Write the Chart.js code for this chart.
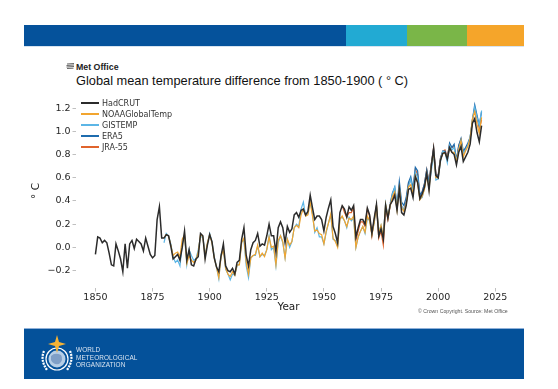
<!DOCTYPE html>
<html>
<head>
<meta charset="utf-8">
<script src="https://cdn.jsdelivr.net/npm/chart.js@4"></script>
<style>
  body { margin: 0; background: #fff; }
  #wrap { position: relative; width: 558px; height: 389px; overflow: hidden; }
  #chart { position: absolute; left: 0; top: 0; }
  .abs { position: absolute; }
  #topband { left: 24px; top: 25px; width: 500px; height: 21px; display: flex; border-bottom: 1px solid #d7e3ef; }
  #topband div { height: 100%; }
  #metoffice { left: 76px; top: 62px; font: bold 8.8px "Liberation Sans", Arial, sans-serif; color: #222; white-space: nowrap; }
  #title { left: 76px; top: 73px; font: 12.8px "Liberation Sans", Arial, sans-serif; color: #111; white-space: nowrap; }
  #copy { left: 418px; top: 308px; font: 5.2px "Liberation Sans", Arial, sans-serif; color: #555; white-space: nowrap; }
  #bottomband { left: 24px; top: 328px; width: 500px; height: 50px; background: #04519a; border-top: 1px solid #8fb0d8; }
  #wmotext { left: 52px; top: 17px; font: 6.4px "Liberation Sans", Arial, sans-serif; color: #dbe5f1; line-height: 7.6px; letter-spacing: 0.1px; }
</style>
</head>
<body>
<div id="wrap">
  <div id="topband" class="abs">
    <div style="width:322px;background:#05529b"></div>
    <div style="width:61px;background:#22aad3"></div>
    <div style="width:60px;background:#7ab648"></div>
    <div style="width:57px;background:#f5a52a"></div>
  </div>
  <svg class="abs" style="left:66px;top:63px" width="9" height="7" viewBox="0 0 9 7">
    <path d="M1 1 L8 0.5 M0.5 2.5 L8 2 M0.5 4 L8 3.5 M1 5.5 L7.5 5.2" stroke="#555" stroke-width="0.9" fill="none"/>
  </svg>
  <div id="metoffice" class="abs">Met Office</div>
  <div id="title" class="abs">Global mean temperature difference from 1850-1900 ( ° C)</div>
  <canvas id="chart" width="558" height="389"></canvas>
  <div id="copy" class="abs">© Crown Copyright. Source: Met Office</div>
  <div id="bottomband" class="abs">
    <svg class="abs" style="left:15px;top:4px" width="36" height="44" viewBox="0 0 36 44">
      <circle cx="18" cy="26" r="11" fill="none" stroke="#fff" stroke-width="1.2"/>
      <circle cx="18" cy="26" r="8.5" fill="#d6e4f3" opacity="0.85"/>
      <path d="M12 23 Q16 19 22 22 Q25 27 20 31 Q14 32 12 27 Z" fill="#7f9fc7"/>
      <path d="M5 18 Q1 27 8 37" fill="none" stroke="#fff" stroke-width="2.2" stroke-dasharray="2 1"/>
      <path d="M31 18 Q35 27 28 37" fill="none" stroke="#fff" stroke-width="2.2" stroke-dasharray="2 1"/>
      <path d="M18 2 L20 9 L27 11 L20 13 L18 20 L16 13 L9 11 L16 9 Z" fill="#f5b335"/>
    </svg>
    <div id="wmotext" class="abs">WORLD<br>METEOROLOGICAL<br>ORGANIZATION</div>
  </div>
</div>
<script>
// global mean temperature difference from 1850-1900 (deg C), annual values
const hadcrutStart = 1850;
const hadcrut = [
  -0.06, 0.09, 0.08, 0.04, 0.06, 0.04, -0.05, -0.15, -0.16, 0.03,
  -0.03, -0.10, -0.21, 0.03, -0.18, 0.03, 0.06, -0.01, 0.07, 0.05,
  0.03, -0.03, 0.08, 0.01, -0.06, -0.09, -0.07, 0.24, 0.35, 0.08,
  0.08, 0.11, 0.10, 0.01, -0.10, -0.08, -0.06, -0.11, 0.00, 0.14,
  -0.11, -0.02, -0.15, -0.16, -0.10, -0.08, 0.12, 0.10, -0.10, 0.02,
  0.11, 0.05, -0.09, -0.17, -0.21, -0.07, 0.03, -0.16, -0.20, -0.21,
  -0.18, -0.23, -0.13, -0.11, 0.07, 0.17, -0.07, -0.16, -0.02, 0.04,
  0.06, 0.12, 0.01, 0.03, 0.02, 0.10, 0.20, 0.10, 0.10, -0.04,
  0.17, 0.22, 0.17, 0.04, 0.18, 0.13, 0.16, 0.28, 0.30, 0.26,
  0.32, 0.33, 0.28, 0.31, 0.45, 0.34, 0.24, 0.27, 0.27, 0.24,
  0.14, 0.26, 0.34, 0.41, 0.18, 0.12, 0.04, 0.30, 0.36, 0.33,
  0.26, 0.35, 0.32, 0.36, 0.09, 0.17, 0.24, 0.24, 0.20, 0.34,
  0.28, 0.12, 0.25, 0.37, 0.10, 0.16, 0.07, 0.36, 0.25, 0.37,
  0.40, 0.45, 0.32, 0.50, 0.30, 0.28, 0.36, 0.50, 0.51, 0.43,
  0.61, 0.56, 0.42, 0.46, 0.52, 0.64, 0.49, 0.70, 0.85, 0.62,
  0.60, 0.75, 0.81, 0.82, 0.76, 0.86, 0.82, 0.80, 0.71, 0.82,
  0.87, 0.74, 0.78, 0.82, 0.89, 1.07, 1.11, 0.99, 0.91, 1.05
];

const noaaStart = 1880;
const noaa = [
  0.08, 0.11, 0.10, 0.02, -0.07, -0.05, -0.04, -0.08, 0.07, 0.11,
  -0.14, -0.07, -0.11, -0.13, -0.11, -0.04, 0.11, 0.09, -0.08, 0.04,
  0.11, 0.04, -0.09, -0.17, -0.26, -0.08, -0.02, -0.18, -0.23, -0.25,
  -0.21, -0.24, -0.15, -0.15, 0.04, 0.08, -0.13, -0.23, -0.09, -0.07,
  -0.06, 0.02, -0.08, -0.05, -0.08, -0.02, 0.09, 0.00, 0.01, -0.15,
  0.06, 0.10, 0.05, -0.09, 0.07, 0.02, 0.05, 0.17, 0.19, 0.17,
  0.28, 0.33, 0.27, 0.28, 0.39, 0.27, 0.14, 0.15, 0.12, 0.11,
  0.03, 0.14, 0.21, 0.29, 0.08, 0.05, 0.00, 0.24, 0.27, 0.23,
  0.18, 0.25, 0.24, 0.27, 0.00, 0.09, 0.14, 0.18, 0.13, 0.27,
  0.23, 0.11, 0.21, 0.36, 0.12, 0.19, 0.09, 0.37, 0.26, 0.36,
  0.44, 0.48, 0.32, 0.51, 0.34, 0.31, 0.37, 0.52, 0.54, 0.46,
  0.62, 0.56, 0.41, 0.44, 0.50, 0.63, 0.50, 0.71, 0.82, 0.60,
  0.60, 0.75, 0.81, 0.81, 0.77, 0.86, 0.82, 0.82, 0.74, 0.84,
  0.92, 0.78, 0.83, 0.87, 0.94, 1.11, 1.17, 1.06, 0.98, 1.12
];

const gistempStart = 1880;
const gistemp = [
  0.04, 0.12, 0.10, 0.03, -0.08, -0.13, -0.11, -0.16, 0.03, 0.10,
  -0.15, -0.02, -0.07, -0.11, -0.10, -0.02, 0.09, 0.09, -0.06, 0.03,
  0.12, 0.05, -0.08, -0.17, -0.27, -0.06, -0.02, -0.19, -0.23, -0.28,
  -0.23, -0.24, -0.16, -0.14, 0.05, 0.06, -0.16, -0.26, -0.09, -0.07,
  -0.07, 0.01, -0.08, -0.06, -0.07, -0.02, 0.10, -0.02, 0.00, -0.16,
  0.04, 0.10, 0.04, -0.09, 0.07, 0.00, 0.05, 0.17, 0.20, 0.18,
  0.33, 0.39, 0.27, 0.29, 0.40, 0.29, 0.13, 0.17, 0.09, 0.09,
  0.03, 0.13, 0.21, 0.28, 0.07, 0.06, 0.01, 0.25, 0.26, 0.23,
  0.17, 0.26, 0.23, 0.25, 0.00, 0.09, 0.14, 0.18, 0.12, 0.25,
  0.23, 0.12, 0.21, 0.36, 0.13, 0.19, 0.10, 0.38, 0.27, 0.36,
  0.46, 0.52, 0.34, 0.51, 0.36, 0.32, 0.38, 0.52, 0.59, 0.47,
  0.65, 0.60, 0.42, 0.43, 0.51, 0.65, 0.53, 0.66, 0.81, 0.58,
  0.59, 0.74, 0.83, 0.82, 0.73, 0.88, 0.84, 0.86, 0.74, 0.85,
  0.92, 0.81, 0.84, 0.88, 0.95, 1.10, 1.21, 1.12, 1.05, 1.18
];

const era5Start = 1979;
const era5 = [
  0.38, 0.47, 0.52, 0.36, 0.57, 0.39, 0.36, 0.43, 0.56, 0.61, 0.51,
  0.69, 0.66, 0.45, 0.48, 0.55, 0.67, 0.56, 0.72, 0.85, 0.62,
  0.62, 0.77, 0.83, 0.83, 0.77, 0.90, 0.86, 0.89, 0.75, 0.88,
  0.94, 0.83, 0.86, 0.90, 0.95, 1.10, 1.23, 1.14, 1.05, 1.17
];

const jra55Start = 1958;
const jra55 = [
  0.36, 0.30,
  0.26, 0.30, 0.30, 0.34, 0.06, 0.14, 0.22, 0.22, 0.18, 0.33,
  0.27, 0.10, 0.24, 0.36, 0.08, 0.14, 0.02, 0.34, 0.24, 0.36,
  0.42, 0.48, 0.35, 0.53, 0.35, 0.33, 0.40, 0.55, 0.58, 0.49,
  0.67, 0.63, 0.44, 0.48, 0.55, 0.67, 0.56, 0.72, 0.86, 0.63,
  0.62, 0.77, 0.83, 0.84, 0.78, 0.89, 0.86, 0.87, 0.75, 0.88,
  0.93, 0.80, 0.85, 0.89, 0.94, 1.09, 1.20, 1.12, 1.02, 1.10
];

const seriesNames = ['HadCRUT', 'NOAAGlobalTemp', 'GISTEMP', 'ERA5', 'JRA-55'];
const seriesColors = ['#2b2b2b', '#f2a52f', '#5cb6e6', '#1e6cae', '#e0642c'];
const xTicks = [1850, 1875, 1900, 1925, 1950, 1975, 2000, 2025];
const yTicks = [-0.2, 0.0, 0.2, 0.4, 0.6, 0.8, 1.0, 1.2];

function toPoints(start, values) {
  return values.map((v, i) => ({ x: start + i, y: v }));
}

const allSeries = [
  toPoints(hadcrutStart, hadcrut),
  toPoints(noaaStart, noaa),
  toPoints(gistempStart, gistemp),
  toPoints(era5Start, era5),
  toPoints(jra55Start, jra55)
];

const datasets = seriesNames.map((name, i) => ({
  label: name,
  data: allSeries[i],
  borderColor: seriesColors[i],
  backgroundColor: seriesColors[i],
  borderWidth: i === 0 ? 1.5 : 1.2,
  pointRadius: 0,
  tension: 0
}));

// legend drawn inside the plot, top-left, like the matplotlib one
const insideLegend = {
  id: 'insideLegend',
  afterDraw(chart) {
    const ctx = chart.ctx;
    const area = chart.chartArea;
    ctx.save();
    ctx.font = '8px "DejaVu Sans"';
    ctx.textBaseline = 'middle';
    ctx.fillStyle = '#333';
    chart.data.datasets.forEach((ds, i) => {
      const y = area.top + 9 + i * 11;
      ctx.strokeStyle = ds.borderColor;
      ctx.lineWidth = 2;
      ctx.beginPath();
      ctx.moveTo(area.left + 5, y);
      ctx.lineTo(area.left + 23, y);
      ctx.stroke();
      ctx.fillText(ds.label, area.left + 26, y + 0.5);
    });
    ctx.restore();
  }
};

const tickFont = { family: 'DejaVu Sans', size: 9.5 };

new Chart(document.getElementById('chart'), {
  type: 'line',
  data: { datasets: datasets },
  plugins: [insideLegend],
  options: {
    responsive: false,
    animation: false,
    layout: { padding: { left: 30, top: 94, right: 57, bottom: 75 } },
    plugins: {
      tooltip: { enabled: false },
      legend: { display: false }
    },
    scales: {
      x: {
        type: 'linear',
        min: 1841.5,
        max: 2027.5,
        afterFit: s => { s.height = 26; },
        afterBuildTicks: s => { s.ticks = xTicks.map(v => ({ value: v })); },
        ticks: { padding: 0, color: '#262626', font: tickFont, maxRotation: 0, callback: v => String(v) },
        grid: { drawOnChartArea: false, drawTicks: true, tickLength: 3.5, color: '#b0b0b0', lineWidth: 0.8 },
        border: { display: false },
        title: { display: true, text: 'Year', color: '#1a1a1a', padding: 0, font: { family: 'DejaVu Sans', size: 10.5 } }
      },
      y: {
        min: -0.35,
        max: 1.322,
        afterFit: s => { s.width = 46; },
        afterBuildTicks: s => { s.ticks = yTicks.map(v => ({ value: v })); },
        ticks: { padding: 2, color: '#262626', font: tickFont, callback: v => v.toFixed(1).replace('-', '\u2212') },
        grid: { drawOnChartArea: false, drawTicks: true, tickLength: 3.5, color: '#b0b0b0', lineWidth: 0.8 },
        border: { display: false },
        title: { display: true, text: '° C', color: '#1a1a1a', padding: 0, font: { family: 'DejaVu Sans', size: 10.5 } }
      }
    }
  }
});
</script>
</body>
</html>
